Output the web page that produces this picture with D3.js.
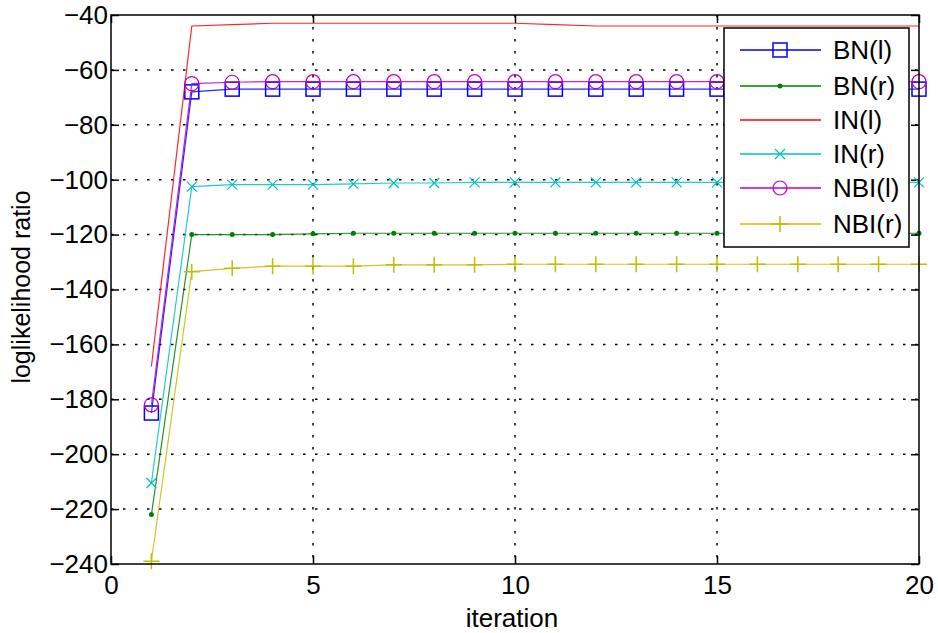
<!DOCTYPE html>
<html><head><meta charset="utf-8">
<script src="https://cdn.jsdelivr.net/npm/d3@7"></script>
<style>
body{margin:0;background:#fff;}
text{font-family:"Liberation Sans",Arial,sans-serif;fill:#000;}
</style></head>
<body><svg id="c" width="938" height="633"></svg>
<script>
const iterations = d3.range(1, 21);
const seriesNames = ["BN(l)", "BN(r)", "IN(l)", "IN(r)", "NBI(l)", "NBI(r)"];
const bnL  = [-185, -68, -67, -67, -67, -67, -67, -67, -67, -67, -67, -67, -67, -67, -67, -67, -67, -67, -67, -67];
const bnR  = [-222, -120, -120, -120, -119.7, -119.5, -119.5, -119.5, -119.5, -119.5, -119.5, -119.5, -119.5, -119.5, -119.5, -119.5, -119.5, -119.5, -119.5, -119.5];
const inL  = [-168, -44, -43.5, -43, -43, -43, -43, -43, -43, -43, -43.5, -44, -44, -44, -44, -44, -44, -44, -44, -44];
const inR  = [-210.5, -102.5, -101.8, -101.8, -101.8, -101.5, -101.2, -101.2, -101, -101, -101, -101, -101, -101, -101, -101, -101, -101, -101, -101];
const nbiL = [-182, -65, -64.5, -64.3, -64.3, -64.3, -64.3, -64.3, -64.3, -64.3, -64.3, -64.3, -64.3, -64.3, -64.3, -64.3, -64.3, -64.3, -64.3, -64.3];
const nbiR = [-239, -133.5, -132.3, -131.5, -131.5, -131.5, -131, -131, -131, -130.8, -130.8, -130.8, -130.8, -130.8, -130.8, -130.8, -130.8, -130.8, -130.8, -130.8];
const xTicks = [0, 5, 10, 15, 20];
const yTicks = [-40, -60, -80, -100, -120, -140, -160, -180, -200, -220, -240];
const xLabel = "iteration";
const yLabel = "loglikelihood ratio";

const seriesValues = [bnL, bnR, inL, inR, nbiL, nbiR];
const colors = ["#0000ff", "#008000", "#ff0000", "#00bfbf", "#bf00bf", "#bfbf00"];
const markers = ["square", "dot", "none", "x", "circle", "plus"];

const L = 111, R = 919, T = 15, B = 564;
const x = d3.scaleLinear().domain([0, 20]).range([L, R]);
const y = d3.scaleLinear().domain([-240, -40]).range([B, T]);
const svg = d3.select("#c");

// grid
const grid = svg.append("g");
xTicks.slice(1, -1).forEach(t => grid.append("line").attr("x1", x(t)).attr("x2", x(t)).attr("y1", T).attr("y2", B)
  .attr("stroke", "#000").attr("stroke-width", 1.5).attr("stroke-dasharray", "2.5,9.5"));
yTicks.slice(1, -1).forEach(t => grid.append("line").attr("y1", y(t)).attr("y2", y(t)).attr("x1", L).attr("x2", R)
  .attr("stroke", "#000").attr("stroke-width", 1.5).attr("stroke-dasharray", "2.5,9.5"));

// axes (MATLAB style inward ticks)
const fmt = d => d < 0 ? "\u2212" + Math.abs(d) : String(d);
const axB = svg.append("g").attr("transform", `translate(0,${B})`)
  .call(d3.axisBottom(x).tickValues(xTicks).tickSizeInner(-8).tickSizeOuter(0).tickPadding(12).tickFormat(fmt));
const axL = svg.append("g").attr("transform", `translate(${L},0)`)
  .call(d3.axisLeft(y).tickValues(yTicks).tickSizeInner(-8).tickSizeOuter(0).tickPadding(3).tickFormat(fmt));
const axT = svg.append("g").attr("transform", `translate(0,${T})`)
  .call(d3.axisTop(x).tickValues(xTicks).tickSizeInner(-8).tickSizeOuter(0).tickFormat(""));
const axR = svg.append("g").attr("transform", `translate(${R},0)`)
  .call(d3.axisRight(y).tickValues(yTicks).tickSizeInner(-8).tickSizeOuter(0).tickFormat(""));
[axB, axL, axT, axR].forEach(a => {
  a.select(".domain").remove();
  a.selectAll("line").attr("stroke", "#000").attr("stroke-width", 1.5);
  a.selectAll("text").attr("font-size", 26).attr("font-family", "Liberation Sans, Arial, sans-serif").attr("fill", "#000");
});
axB.selectAll("text").attr("dy", "0.71em");

// series
function drawMarker(g, type, cx, cy, color) {
  if (type === "square") g.append("rect").attr("x", cx - 7).attr("y", cy - 7).attr("width", 14).attr("height", 14).attr("fill", "none").attr("stroke", color).attr("stroke-width", 1.5);
  else if (type === "circle") g.append("circle").attr("cx", cx).attr("cy", cy).attr("r", 7).attr("fill", "none").attr("stroke", color).attr("stroke-width", 1.2);
  else if (type === "dot") g.append("circle").attr("cx", cx).attr("cy", cy).attr("r", 2.5).attr("fill", color);
  else if (type === "x") g.append("path").attr("d", `M${cx-5},${cy-5}L${cx+5},${cy+5}M${cx-5},${cy+5}L${cx+5},${cy-5}`).attr("stroke", color).attr("stroke-width", 1.2);
  else if (type === "plus") g.append("path").attr("d", `M${cx-8},${cy}L${cx+8},${cy}M${cx},${cy-8}L${cx},${cy+8}`).attr("stroke", color).attr("stroke-width", 1.5);
}
const line = d3.line().x((d, i) => x(iterations[i])).y(d => y(d));
const plot = svg.append("g");
seriesValues.forEach((vals, s) => {
  const g = plot.append("g");
  g.append("path").attr("d", line(vals)).attr("fill", "none").attr("stroke", colors[s]).attr("stroke-width", 1.2).attr("opacity", 0.85);
  if (markers[s] !== "none") vals.forEach((v, i) => drawMarker(g, markers[s], x(iterations[i]), y(v), colors[s]));
});

// frame
svg.append("rect").attr("x", L).attr("y", T).attr("width", R - L).attr("height", B - T).attr("fill", "none").attr("stroke", "#000").attr("stroke-width", 1.5);

// labels
svg.append("text").attr("x", 512).attr("y", 627).attr("text-anchor", "middle").attr("font-size", 26).text(xLabel);
svg.append("text").attr("transform", `translate(30,287) rotate(-90)`).attr("text-anchor", "middle").attr("font-size", 25).text(yLabel);

// legend
const lg = svg.append("g");
lg.append("rect").attr("x", 724).attr("y", 28).attr("width", 185).attr("height", 219).attr("fill", "#fff").attr("stroke", "#000").attr("stroke-width", 1.5);
const rowsY = [50, 86, 120, 154, 188, 224];
seriesNames.forEach((n, s) => {
  const ry = rowsY[s];
  lg.append("line").attr("x1", 740).attr("x2", 821).attr("y1", ry).attr("y2", ry).attr("stroke", colors[s]).attr("stroke-width", 1.5);
  if (markers[s] !== "none") drawMarker(lg, markers[s], 780, ry, colors[s]);
  lg.append("text").attr("x", 833).attr("y", ry).attr("dy", "0.35em").attr("font-size", 26).text(n);
});
</script></body></html>
